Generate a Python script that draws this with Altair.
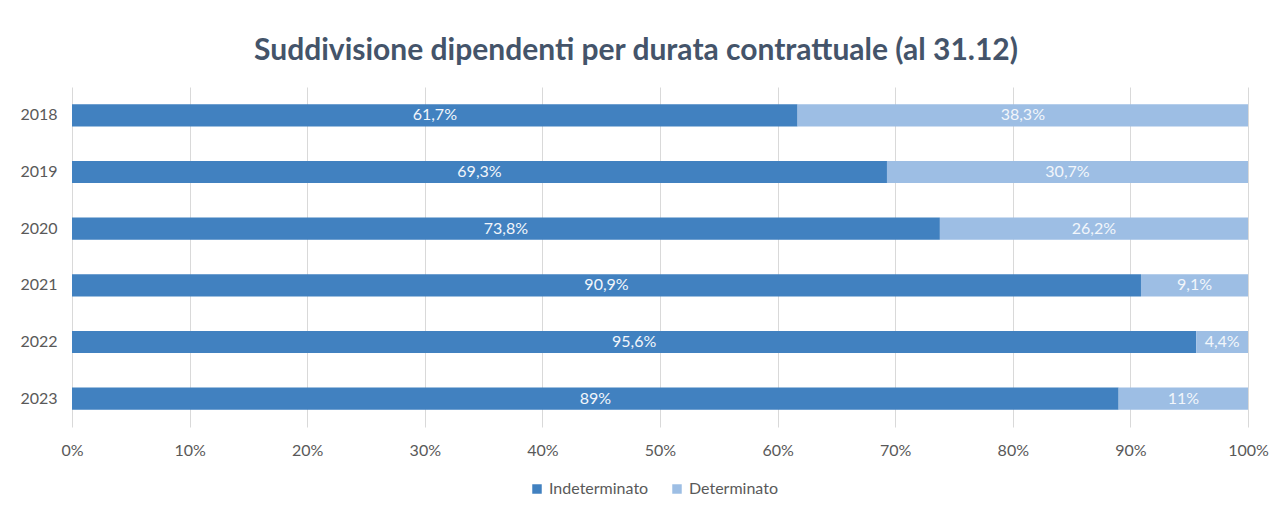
import altair as alt
import pandas as pd

years = ["2018", "2019", "2020", "2021", "2022", "2023"]
indeterminato = [61.7, 69.3, 73.8, 90.9, 95.6, 89.0]
determinato = [38.3, 30.7, 26.2, 9.1, 4.4, 11.0]
series = ["Indeterminato", "Determinato"]
colors = ["#4181C0", "#9DBEE4"]

rows = []
for y, a, b in zip(years, indeterminato, determinato):
    for i, (s, v) in enumerate(zip(series, [a, b])):
        rows.append({"anno": y, "tipo": s, "ord": i, "val": v / 100,
                     "lab": f"{v:g}".replace(".", ",") + "%"})
df = pd.DataFrame(rows)

FONT = "Lato"
base = alt.Chart(df).transform_stack(
    stack="val", groupby=["anno"], as_=["x0", "x1"], sort=[alt.SortField("ord")]
).transform_calculate(mid="(datum.x0 + datum.x1) / 2")

yenc = alt.Y("anno:N", sort=years, title=None,
             scale=alt.Scale(paddingInner=0.61, paddingOuter=0.305),
             axis=alt.Axis(ticks=False, domain=False, labelPadding=15,
                           labelFontSize=16, labelColor="#595959", labelFont=FONT,
                           minExtent=64, maxExtent=64))

bars = base.mark_bar().encode(
    x=alt.X("x0:Q", scale=alt.Scale(domain=[0, 1]), title=None,
            axis=alt.Axis(format="~%", values=[i / 10 for i in range(11)],
                          grid=True, gridColor="#D9D9D9", domain=False, ticks=False,
                          labelFlush=False,
                          labelPadding=15, labelFontSize=16, labelColor="#595959",
                          labelFont=FONT)),
    x2="x1:Q",
    y=yenc,
    color=alt.Color("tipo:N", sort=series,
                    scale=alt.Scale(domain=series, range=colors),
                    legend=alt.Legend(title=None, orient="none", direction="horizontal",
                                      legendX=457, legendY=394,
                                      symbolType="square", symbolSize=90,
                                      labelFontSize=16, labelColor="#595959",
                                      labelFont=FONT, columnPadding=20)),
)

texts = base.mark_text(color="#F2F6FB", fontSize=16, font=FONT).encode(
    x="mid:Q", y=alt.Y("anno:N", sort=years), text="lab:N")

chart = (bars + texts).properties(
    width=1176, height=340,
    title=alt.TitleParams("Suddivisione dipendenti per durata contrattuale (al 31.12)",
                          fontSize=30, font=FONT, fontWeight="bold", color="#44546A",
                          offset=21, dx=-24),
    padding={"left": 0, "top": 28, "right": 5, "bottom": 5},
).configure_view(stroke=None)

chart.save("out.html", embed_options={"renderer": "svg", "actions": False})
